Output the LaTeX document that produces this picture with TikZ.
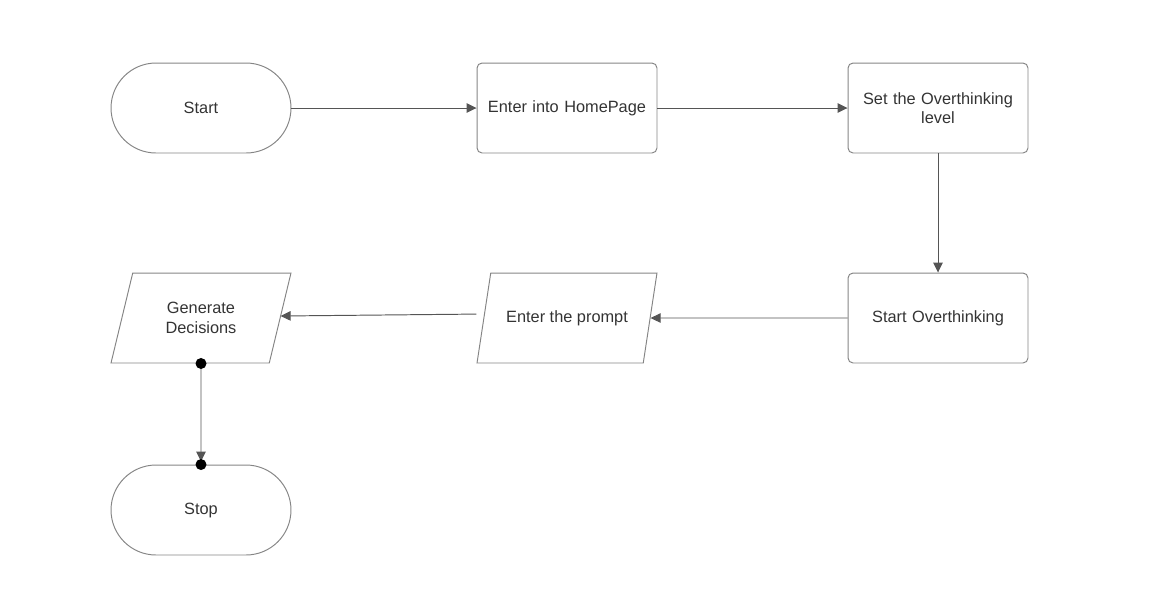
\documentclass[tikz,border=0pt]{standalone}
\usepackage{fontspec}
\setmainfont{Liberation Sans}
\usetikzlibrary{shapes.geometric,arrows.meta}
\definecolor{edgegray}{HTML}{858585}
\definecolor{linegray}{HTML}{555555}
\definecolor{textgray}{HTML}{333333}
\begin{document}
\begin{tikzpicture}[x=0.02cm, y=-0.02cm,
    every node/.style={font=\fontsize{9.3}{11}\selectfont, text=textgray},
    terminal/.style={draw=edgegray, line width=0.55pt, rounded corners=0.9cm, minimum width=3.6cm, minimum height=1.8cm},
    process/.style={draw=edgegray, line width=0.55pt, rounded corners=0.1cm, minimum width=3.6cm, minimum height=1.8cm, align=center, text width=3.3cm},
    io/.style={draw=edgegray, line width=0.55pt, trapezium, trapezium left angle=63, trapezium right angle=117,
        trapezium stretches body, minimum width=3.6cm, minimum height=1.8cm, align=center},
    flow/.style={draw=linegray, line width=0.55pt, -{Triangle[length=0.2cm, width=0.19cm]}},
    dot/.style={circle, fill=black, inner sep=0pt, minimum size=0.22cm}]

    \useasboundingbox (0,0) rectangle (1156,600);

    % --- Top row ---
    \node[terminal] (start) at (201,108) {Start};
    \node[process] (home) at (567,108) {Enter into HomePage};
    \node[process] (level) at (938,108) {Set the Overthinking\\level};

    % --- Middle row ---
    \node[process] (think) at (938,318) {Start Overthinking};
    \node[io] (prompt) at (567,318) {Enter the prompt};
    \node[io] (decide) at (201,318) {Generate\\Decisions};

    % --- Bottom ---
    \node[terminal] (stop) at (201,510) {Stop};

    % Connectors
    \draw[flow] (start) -- (home);
    \draw[flow] (home) -- (level);
    \draw[flow] (level) -- (think);
    \draw[flow] (think) -- (prompt.east);
    \draw[flow, shorten <=0.14cm] ([yshift=0.08cm]prompt.west) -- ([yshift=0.04cm]decide.east);
    \draw[flow] (decide.south) -- ([yshift=0.06cm]stop.north);
    \node[dot] (dtop) at (decide.south) {};
    \node[dot] (dbot) at (stop.north) {};

\end{tikzpicture}
\end{document}
